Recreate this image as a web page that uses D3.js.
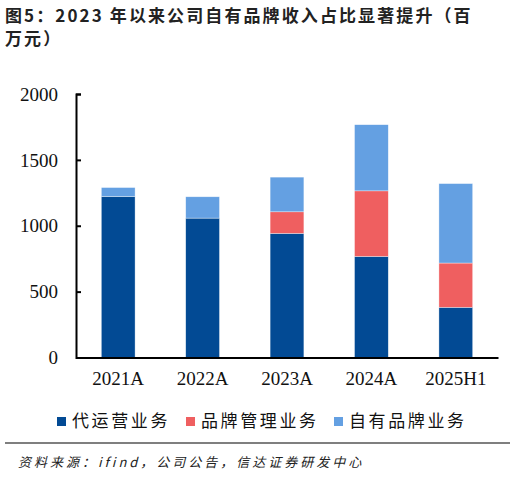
<!DOCTYPE html>
<html>
<head>
<meta charset="utf-8">
<script src="https://cdn.jsdelivr.net/npm/d3@7"></script>
<style>
  body { margin: 0; background: #fff; }
  svg { display: block; }
</style>
</head>
<body>
<svg id="chart" width="516" height="477"></svg>
<script>
// chart data (百万元)
var categories = ["2021A", "2022A", "2023A", "2024A", "2025H1"];
var seriesNames = ["代运营业务", "品牌管理业务", "自有品牌业务"];
var daiyunying = [1222, 1058, 942, 767, 381];
var pinpaiGuanli = [0, 0, 164, 498, 336];
var ziyouPinpai = [68, 162, 263, 502, 603];
var yTicks = [0, 500, 1000, 1500, 2000];

var colors = ["#024a94", "#ef5f60", "#64a0e2"];

var svg = d3.select("#chart");

// title, two lines
var title = svg.append("text")
    .attr("font-family", "'Noto Sans CJK SC', sans-serif")
    .attr("font-size", "17px")
    .attr("font-weight", "bold")
    .attr("fill", "#222");
title.append("tspan")
    .attr("x", 5).attr("y", 22)
    .attr("letter-spacing", "2.1px")
    .text("图5：2023 年以来公司自有品牌收入占比显著提升（百");
title.append("tspan")
    .attr("x", 5).attr("y", 45)
    .attr("letter-spacing", "2.1px")
    .text("万元）");

// build table for stack
var table = categories.map(function (c, i) {
    return { cat: c, s0: daiyunying[i], s1: pinpaiGuanli[i], s2: ziyouPinpai[i] };
});
var stack = d3.stack().keys(["s0", "s1", "s2"]);
var layers = stack(table);

var x = d3.scaleBand()
    .domain(categories)
    .range([76, 498])
    .paddingInner(0.6)
    .paddingOuter(0.3);

var y = d3.scaleLinear()
    .domain([0, 2000])
    .range([357.5, 94]);

// bars
svg.append("g")
    .selectAll("g")
    .data(layers)
    .enter()
    .append("g")
    .attr("fill", function (d, i) { return colors[i]; })
    .selectAll("rect")
    .data(function (d) { return d; })
    .enter()
    .append("rect")
    .attr("x", function (d) { return x(d.data.cat); })
    .attr("width", x.bandwidth())
    .attr("y", function (d) { return y(d[1]); })
    .attr("height", function (d) { return y(d[0]) - y(d[1]); })
    .attr("stroke", "#fff")
    .attr("stroke-opacity", 0.6)
    .attr("stroke-width", 0.6);

// y axis, ticks pointing inward
var yAxis = svg.append("g")
    .attr("transform", "translate(76,0)")
    .call(d3.axisRight(y).tickValues(yTicks).tickSize(5).tickFormat(""));
yAxis.select(".domain").attr("stroke", "#000").attr("stroke-width", 2);
yAxis.selectAll(".tick line").attr("stroke", "#000").attr("stroke-width", 2);

svg.append("g")
    .selectAll("text")
    .data(yTicks)
    .enter()
    .append("text")
    .attr("x", 58)
    .attr("y", function (d) { return y(d); })
    .attr("dy", "0.35em")
    .attr("text-anchor", "end")
    .attr("font-family", "'Liberation Serif', serif")
    .attr("font-size", "19px")
    .attr("fill", "#111")
    .text(function (d) { return d; });

// x axis
var xAxis = svg.append("g")
    .attr("transform", "translate(0," + y(0) + ")")
    .call(d3.axisBottom(x).tickSize(0).tickPadding(14));
xAxis.select(".domain").attr("stroke", "#000").attr("stroke-width", 2);
xAxis.selectAll(".tick text")
    .attr("font-family", "'Liberation Serif', serif")
    .attr("font-size", "19px")
    .attr("fill", "#111")
    .attr("dy", "0.71em");

// legend
var legendX = [57, 186, 334];
var legend = svg.append("g")
    .selectAll("g")
    .data(seriesNames)
    .enter()
    .append("g")
    .attr("transform", function (d, i) { return "translate(" + legendX[i] + ",417)"; });
legend.append("rect")
    .attr("width", 9).attr("height", 9)
    .attr("fill", function (d, i) { return colors[i]; });
legend.append("text")
    .attr("x", 15).attr("y", 10)
    .attr("font-family", "'Noto Sans CJK SC', sans-serif")
    .attr("font-size", "17px")
    .attr("letter-spacing", "2.6px")
    .attr("fill", "#111")
    .text(function (d) { return d; });

// separator line and source
svg.append("line")
    .attr("x1", 5).attr("x2", 510)
    .attr("y1", 443).attr("y2", 443)
    .attr("stroke", "#555")
    .attr("stroke-width", 1.5);

svg.append("text")
    .attr("x", 18).attr("y", 467)
    .attr("font-family", "'Noto Sans CJK SC', sans-serif")
    .attr("font-size", "13px")
    .attr("font-style", "italic")
    .attr("letter-spacing", "3px")
    .attr("fill", "#222")
    .text("资料来源：ifind，公司公告，信达证券研发中心");
</script>
</body>
</html>
